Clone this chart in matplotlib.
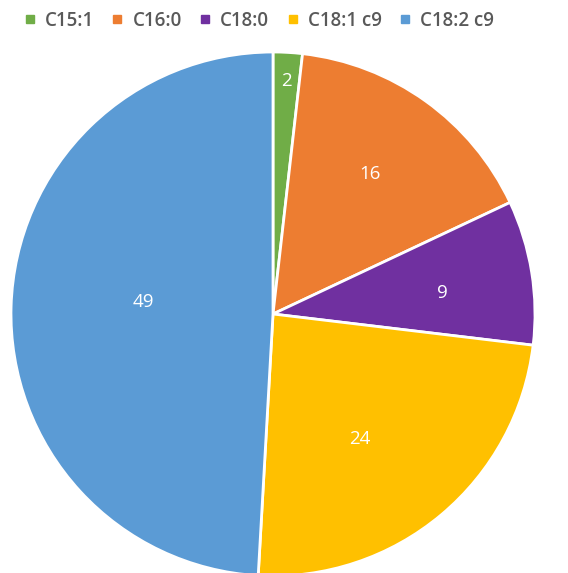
import matplotlib
matplotlib.use("Agg")
import matplotlib.pyplot as plt
from matplotlib.lines import Line2D
import numpy as np

categories = ["C15:1", "C16:0", "C18:0", "C18:1 c9", "C18:2 c9"]
values = [1.8, 16.2, 8.9, 24.0, 49.1]
colors = ["#70AD47", "#ED7D31", "#7030A0", "#FFC000", "#5B9BD5"]
label_radius = [0.89, 0.65, 0.65, 0.58, 0.495]
label_angle_shift = [0, 1, -2, -5, -3.7]

W, H = 568, 573
fig = plt.figure(figsize=(W / 100, H / 100), dpi=100)
plt.rcParams['font.family'] = ['Open Sans', 'DejaVu Sans']

R = 262
cx, cy = 273, 314
ax = fig.add_axes([(cx - R) / W, (H - cy - R) / H, 2 * R / W, 2 * R / H])
wedges, _ = ax.pie(values, colors=colors, startangle=90, counterclock=False,
                   radius=1, wedgeprops=dict(edgecolor="white", linewidth=2.0))
ax.set_xlim(-1, 1)
ax.set_ylim(-1, 1)
ax.set_aspect("equal")
ax.axis("off")

for w, v, r, s in zip(wedges, values, label_radius, label_angle_shift):
    ang = np.deg2rad((w.theta1 + w.theta2) / 2 + s)
    ax.text(r * np.cos(ang), r * np.sin(ang), f"{v:.0f}", color="white",
            fontsize=13.5, ha="center", va="center")

handles = [Line2D([], [], marker="s", linestyle="none", markersize=5.5,
                  markerfacecolor=c, markeredgecolor=c) for c in colors]
fig.legend(handles, categories, loc="center", bbox_to_anchor=(259 / W, 1 - 21 / H),
           ncol=5, frameon=False, prop=dict(size=13.5, weight="semibold"),
           labelcolor="#595959",
           handlelength=0.6, handletextpad=0.5, columnspacing=0.95,
           borderaxespad=0, borderpad=0)

fig.savefig("out.png", dpi=100)
